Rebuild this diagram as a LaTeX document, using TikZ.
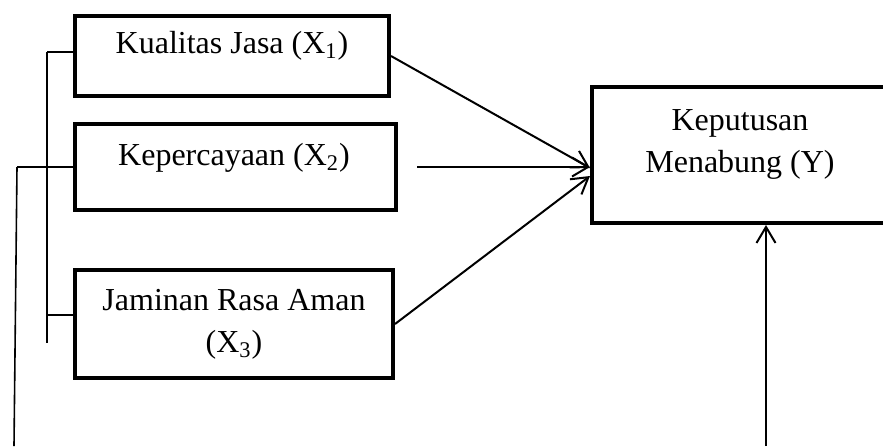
\documentclass[tikz,border=0pt]{standalone}
\usepackage{fontspec}
\setmainfont{Liberation Serif}
\usetikzlibrary{arrows.meta}

\tikzset{
	box/.style = {draw, line width=2pt, inner sep=0pt},
	arr/.style = {line width=1pt, -{Straight Barb[length=8pt, width=9.5pt]}},
	brace/.style = {line width=0.8pt}
}

\begin{document}
\begin{tikzpicture}[x=0.5pt, y=-0.5pt, font=\fontsize{16}{21}\selectfont]
	\useasboundingbox (0,0) rectangle (883,446);
	\clip (0,0) rectangle (883,446);

	\node[box, minimum width=157pt, minimum height=40pt] (kj) at (232,56) {};
	\node[box, minimum width=160.5pt, minimum height=43pt] (kp) at (235.5,167) {};
	\node[box, minimum width=159pt, minimum height=54pt] (jr) at (234,324) {};
	\node[box, minimum width=149pt, minimum height=68pt] (km) at (741,155) {};

	\node[anchor=base] (kjtext) at (232,53) {Kualitas Jasa (X\textsubscript{1})};
	\node[anchor=base] (kptext) at (234,165) {Kepercayaan (X\textsubscript{2})};
	\node[align=center] (jrtext) at (234,324) {Jaminan Rasa Aman\\(X\textsubscript{3})};
	\node[align=center] (kmtext) at (740,144) {Keputusan\\Menabung (Y)};

	\coordinate (tipa) at ([yshift=-6.5pt]km.west);
	\coordinate (tipc) at ([yshift=-10.5pt]km.west);
	\coordinate (yb) at (766,446);

	\draw[arr] (kj.east) -- (tipa);
	\draw[arr, shorten <=9.5pt] (kp.east) -- (kp.east -| tipa);
	\draw[arr] (jr.east) -- (tipc);
	\draw[arr] (yb) -- (yb |- km.south);

	\coordinate (bk1) at (47,52);
	\coordinate (bk3) at (47,315);
	\coordinate (bkend) at (47,343);
	\coordinate (lf) at (17,167);
	\coordinate (lfend) at (14,446);

	\draw[brace] (bk1) -- (bkend);
	\draw[brace] (bk1) -- (bk1 -| kj.west);
	\draw[brace] (bk3) -- (bk3 -| jr.west);
	\draw[brace] (lf) -- (lf -| kp.west);
	\draw[brace] (lf) -- (lfend);
\end{tikzpicture}
\end{document}
